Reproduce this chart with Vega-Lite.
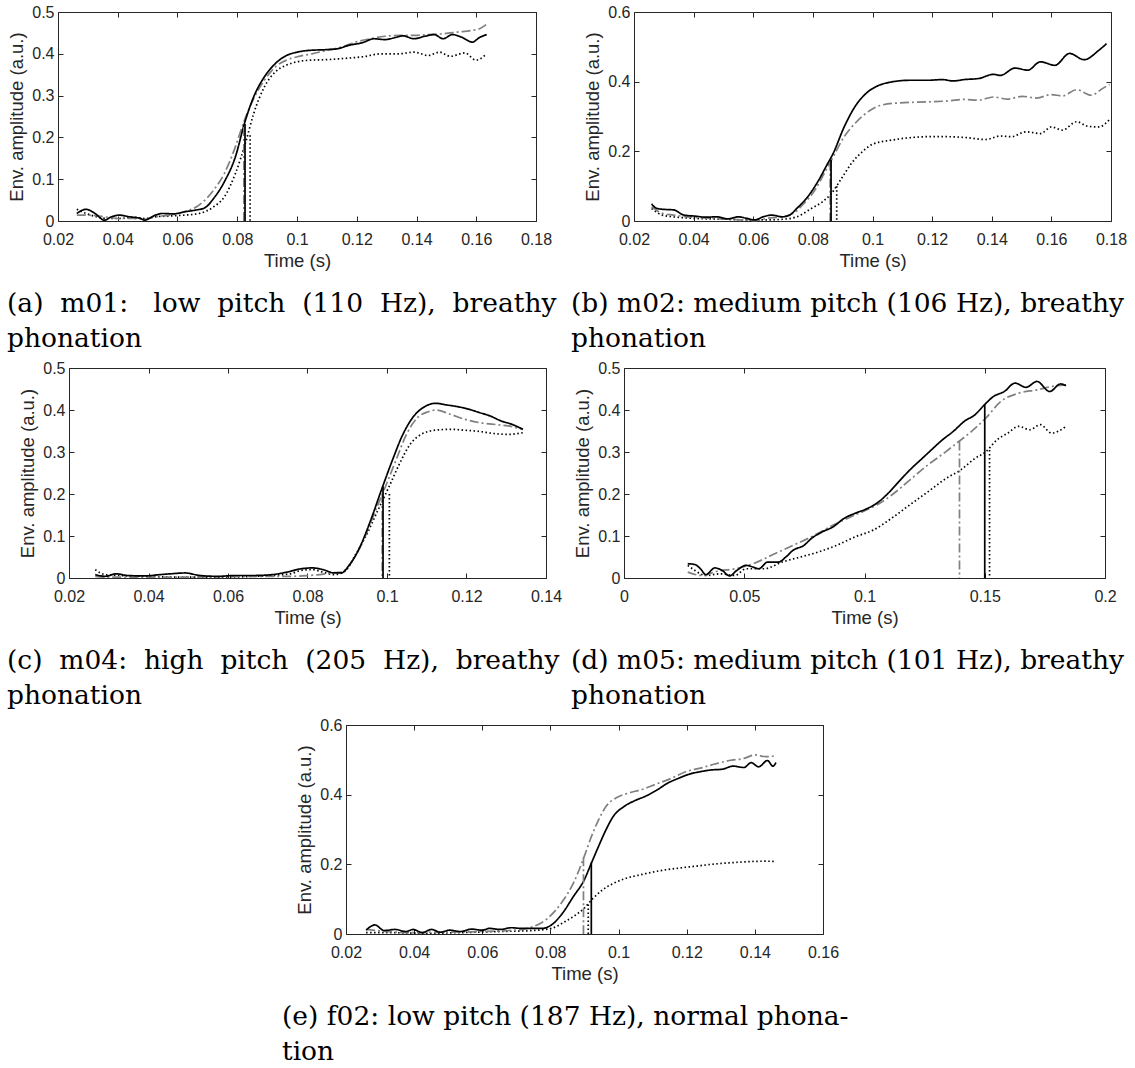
{
"$schema": "https://vega.github.io/schema/vega-lite/v6.json",
"background": "white",
"padding": {"left": 6, "top": 3, "right": 5, "bottom": 5},
"config": {
  "view": {"stroke": null},
  "axis": {"labelFont": "Liberation Sans", "labelFontSize": 16, "labelColor": "#262626", "titleFont": "Liberation Sans", "titleFontSize": 18.5, "titleFontWeight": "normal", "titleColor": "#262626", "tickColor": "#262626", "tickSize": -5, "tickWidth": 1, "domain": false, "grid": false, "labelFlush": false, "labelOverlap": false, "labelBound": false},
  "axisX": {"labelPadding": 15, "titlePadding": 4},
  "axisY": {"labelPadding": 9, "titlePadding": 5},
  "line": {"interpolate": "monotone"},
  "title": {"font": "DejaVu Serif", "fontSize": 26.5, "fontWeight": "normal", "color": "#000000", "orient": "bottom", "anchor": "start", "frame": "group", "baseline": "alphabetic", "lineHeight": 35, "offset": 21}
},
"datasets": {
"a": [
{"s":"dotted","t":0.0263,"v":0.028},{"s":"dotted","t":0.0294,"v":0.018},{"s":"dotted","t":0.0330,"v":0.010},{"s":"dotted","t":0.0367,"v":0.006},{"s":"dotted","t":0.0404,"v":0.006},{"s":"dotted","t":0.0452,"v":0.009},{"s":"dotted","t":0.0489,"v":0.006},{"s":"dotted","t":0.0526,"v":0.010},{"s":"dotted","t":0.0574,"v":0.012},{"s":"dotted","t":0.0623,"v":0.014},{"s":"dotted","t":0.0672,"v":0.018},{"s":"dotted","t":0.0721,"v":0.034},{"s":"dotted","t":0.0757,"v":0.058},{"s":"dotted","t":0.0794,"v":0.114},{"s":"dotted","t":0.0830,"v":0.193},{"s":"dotted","t":0.0855,"v":0.257},{"s":"dotted","t":0.0891,"v":0.321},{"s":"dotted","t":0.0928,"v":0.357},{"s":"dotted","t":0.0965,"v":0.373},{"s":"dotted","t":0.1001,"v":0.381},{"s":"dotted","t":0.1050,"v":0.385},{"s":"dotted","t":0.1099,"v":0.386},{"s":"dotted","t":0.1160,"v":0.389},{"s":"dotted","t":0.1221,"v":0.393},{"s":"dotted","t":0.1282,"v":0.400},{"s":"dotted","t":0.1343,"v":0.400},{"s":"dotted","t":0.1391,"v":0.404},{"s":"dotted","t":0.1440,"v":0.396},{"s":"dotted","t":0.1477,"v":0.404},{"s":"dotted","t":0.1513,"v":0.394},{"s":"dotted","t":0.1562,"v":0.402},{"s":"dotted","t":0.1599,"v":0.385},{"s":"dotted","t":0.1635,"v":0.400},
{"s":"dashdot","t":0.0263,"v":0.014},{"s":"dashdot","t":0.0306,"v":0.014},{"s":"dashdot","t":0.0355,"v":0.010},{"s":"dashdot","t":0.0404,"v":0.006},{"s":"dashdot","t":0.0452,"v":0.006},{"s":"dashdot","t":0.0489,"v":0.004},{"s":"dashdot","t":0.0526,"v":0.010},{"s":"dashdot","t":0.0574,"v":0.014},{"s":"dashdot","t":0.0623,"v":0.022},{"s":"dashdot","t":0.0672,"v":0.038},{"s":"dashdot","t":0.0721,"v":0.074},{"s":"dashdot","t":0.0757,"v":0.114},{"s":"dashdot","t":0.0794,"v":0.178},{"s":"dashdot","t":0.0824,"v":0.241},{"s":"dashdot","t":0.0855,"v":0.293},{"s":"dashdot","t":0.0891,"v":0.337},{"s":"dashdot","t":0.0928,"v":0.369},{"s":"dashdot","t":0.0965,"v":0.385},{"s":"dashdot","t":0.1001,"v":0.393},{"s":"dashdot","t":0.1050,"v":0.400},{"s":"dashdot","t":0.1099,"v":0.408},{"s":"dashdot","t":0.1148,"v":0.416},{"s":"dashdot","t":0.1196,"v":0.428},{"s":"dashdot","t":0.1245,"v":0.436},{"s":"dashdot","t":0.1294,"v":0.442},{"s":"dashdot","t":0.1343,"v":0.444},{"s":"dashdot","t":0.1391,"v":0.444},{"s":"dashdot","t":0.1440,"v":0.446},{"s":"dashdot","t":0.1489,"v":0.448},{"s":"dashdot","t":0.1538,"v":0.452},{"s":"dashdot","t":0.1587,"v":0.456},{"s":"dashdot","t":0.1611,"v":0.460},{"s":"dashdot","t":0.1635,"v":0.471},
{"s":"solid","t":0.0263,"v":0.018},{"s":"solid","t":0.0294,"v":0.028},{"s":"solid","t":0.0324,"v":0.018},{"s":"solid","t":0.0355,"v":0.002},{"s":"solid","t":0.0379,"v":0.010},{"s":"solid","t":0.0404,"v":0.014},{"s":"solid","t":0.0440,"v":0.010},{"s":"solid","t":0.0477,"v":0.006},{"s":"solid","t":0.0489,"v":0.002},{"s":"solid","t":0.0526,"v":0.014},{"s":"solid","t":0.0550,"v":0.018},{"s":"solid","t":0.0587,"v":0.017},{"s":"solid","t":0.0623,"v":0.022},{"s":"solid","t":0.0660,"v":0.026},{"s":"solid","t":0.0690,"v":0.031},{"s":"solid","t":0.0721,"v":0.054},{"s":"solid","t":0.0757,"v":0.094},{"s":"solid","t":0.0794,"v":0.154},{"s":"solid","t":0.0824,"v":0.233},{"s":"solid","t":0.0855,"v":0.297},{"s":"solid","t":0.0891,"v":0.345},{"s":"solid","t":0.0928,"v":0.377},{"s":"solid","t":0.0965,"v":0.396},{"s":"solid","t":0.1001,"v":0.404},{"s":"solid","t":0.1038,"v":0.408},{"s":"solid","t":0.1099,"v":0.410},{"s":"solid","t":0.1135,"v":0.412},{"s":"solid","t":0.1172,"v":0.420},{"s":"solid","t":0.1221,"v":0.427},{"s":"solid","t":0.1257,"v":0.436},{"s":"solid","t":0.1294,"v":0.434},{"s":"solid","t":0.1330,"v":0.439},{"s":"solid","t":0.1355,"v":0.443},{"s":"solid","t":0.1391,"v":0.436},{"s":"solid","t":0.1428,"v":0.442},{"s":"solid","t":0.1459,"v":0.446},{"s":"solid","t":0.1489,"v":0.436},{"s":"solid","t":0.1520,"v":0.446},{"s":"solid","t":0.1550,"v":0.440},{"s":"solid","t":0.1587,"v":0.428},{"s":"solid","t":0.1611,"v":0.439},{"s":"solid","t":0.1635,"v":0.446}
],
"a_on": [{"s":"dotted","t":0.0843,"v":0.205},{"s":"dashdot","t":0.0822,"v":0.225},{"s":"solid","t":0.0826,"v":0.232}],
"b": [
{"s":"dotted","t":0.0259,"v":0.036},{"s":"dotted","t":0.0295,"v":0.017},{"s":"dotted","t":0.0332,"v":0.012},{"s":"dotted","t":0.0393,"v":0.008},{"s":"dotted","t":0.0454,"v":0.006},{"s":"dotted","t":0.0515,"v":0.005},{"s":"dotted","t":0.0576,"v":0.003},{"s":"dotted","t":0.0637,"v":0.003},{"s":"dotted","t":0.0698,"v":0.005},{"s":"dotted","t":0.0746,"v":0.012},{"s":"dotted","t":0.0795,"v":0.036},{"s":"dotted","t":0.0832,"v":0.055},{"s":"dotted","t":0.0862,"v":0.079},{"s":"dotted","t":0.0893,"v":0.118},{"s":"dotted","t":0.0929,"v":0.165},{"s":"dotted","t":0.0966,"v":0.199},{"s":"dotted","t":0.1002,"v":0.221},{"s":"dotted","t":0.1063,"v":0.232},{"s":"dotted","t":0.1124,"v":0.239},{"s":"dotted","t":0.1185,"v":0.242},{"s":"dotted","t":0.1246,"v":0.242},{"s":"dotted","t":0.1307,"v":0.240},{"s":"dotted","t":0.1380,"v":0.234},{"s":"dotted","t":0.1429,"v":0.244},{"s":"dotted","t":0.1466,"v":0.242},{"s":"dotted","t":0.1515,"v":0.256},{"s":"dotted","t":0.1563,"v":0.251},{"s":"dotted","t":0.1600,"v":0.270},{"s":"dotted","t":0.1637,"v":0.261},{"s":"dotted","t":0.1685,"v":0.285},{"s":"dotted","t":0.1722,"v":0.272},{"s":"dotted","t":0.1759,"v":0.270},{"s":"dotted","t":0.1795,"v":0.291},
{"s":"dashdot","t":0.0259,"v":0.041},{"s":"dashdot","t":0.0295,"v":0.022},{"s":"dashdot","t":0.0332,"v":0.017},{"s":"dashdot","t":0.0393,"v":0.011},{"s":"dashdot","t":0.0454,"v":0.008},{"s":"dashdot","t":0.0515,"v":0.005},{"s":"dashdot","t":0.0576,"v":0.003},{"s":"dashdot","t":0.0606,"v":0.001},{"s":"dashdot","t":0.0649,"v":0.008},{"s":"dashdot","t":0.0698,"v":0.012},{"s":"dashdot","t":0.0734,"v":0.022},{"s":"dashdot","t":0.0771,"v":0.051},{"s":"dashdot","t":0.0807,"v":0.089},{"s":"dashdot","t":0.0844,"v":0.146},{"s":"dashdot","t":0.0868,"v":0.184},{"s":"dashdot","t":0.0905,"v":0.242},{"s":"dashdot","t":0.0941,"v":0.280},{"s":"dashdot","t":0.0978,"v":0.309},{"s":"dashdot","t":0.1027,"v":0.332},{"s":"dashdot","t":0.1088,"v":0.339},{"s":"dashdot","t":0.1185,"v":0.342},{"s":"dashdot","t":0.1259,"v":0.345},{"s":"dashdot","t":0.1307,"v":0.349},{"s":"dashdot","t":0.1356,"v":0.347},{"s":"dashdot","t":0.1405,"v":0.356},{"s":"dashdot","t":0.1454,"v":0.350},{"s":"dashdot","t":0.1502,"v":0.358},{"s":"dashdot","t":0.1551,"v":0.353},{"s":"dashdot","t":0.1600,"v":0.363},{"s":"dashdot","t":0.1637,"v":0.359},{"s":"dashdot","t":0.1685,"v":0.377},{"s":"dashdot","t":0.1734,"v":0.361},{"s":"dashdot","t":0.1771,"v":0.380},{"s":"dashdot","t":0.1795,"v":0.392},
{"s":"solid","t":0.0259,"v":0.049},{"s":"solid","t":0.0277,"v":0.036},{"s":"solid","t":0.0307,"v":0.033},{"s":"solid","t":0.0332,"v":0.032},{"s":"solid","t":0.0368,"v":0.017},{"s":"solid","t":0.0405,"v":0.014},{"s":"solid","t":0.0441,"v":0.011},{"s":"solid","t":0.0478,"v":0.012},{"s":"solid","t":0.0515,"v":0.006},{"s":"solid","t":0.0551,"v":0.012},{"s":"solid","t":0.0576,"v":0.008},{"s":"solid","t":0.0606,"v":0.003},{"s":"solid","t":0.0630,"v":0.011},{"s":"solid","t":0.0661,"v":0.017},{"s":"solid","t":0.0698,"v":0.012},{"s":"solid","t":0.0722,"v":0.017},{"s":"solid","t":0.0746,"v":0.036},{"s":"solid","t":0.0783,"v":0.070},{"s":"solid","t":0.0820,"v":0.118},{"s":"solid","t":0.0844,"v":0.156},{"s":"solid","t":0.0868,"v":0.194},{"s":"solid","t":0.0905,"v":0.270},{"s":"solid","t":0.0941,"v":0.328},{"s":"solid","t":0.0978,"v":0.366},{"s":"solid","t":0.1015,"v":0.387},{"s":"solid","t":0.1063,"v":0.399},{"s":"solid","t":0.1124,"v":0.404},{"s":"solid","t":0.1185,"v":0.404},{"s":"solid","t":0.1234,"v":0.406},{"s":"solid","t":0.1271,"v":0.402},{"s":"solid","t":0.1307,"v":0.406},{"s":"solid","t":0.1356,"v":0.409},{"s":"solid","t":0.1405,"v":0.421},{"s":"solid","t":0.1429,"v":0.418},{"s":"solid","t":0.1478,"v":0.439},{"s":"solid","t":0.1521,"v":0.433},{"s":"solid","t":0.1563,"v":0.457},{"s":"solid","t":0.1612,"v":0.447},{"s":"solid","t":0.1661,"v":0.481},{"s":"solid","t":0.1710,"v":0.463},{"s":"solid","t":0.1759,"v":0.490},{"s":"solid","t":0.1785,"v":0.509}
],
"b_on": [{"s":"dotted","t":0.0880,"v":0.100},{"s":"dashdot","t":0.0858,"v":0.170},{"s":"solid","t":0.0861,"v":0.175}],
"c": [
{"s":"dotted","t":0.0266,"v":0.020},{"s":"dotted","t":0.0291,"v":0.008},{"s":"dotted","t":0.0328,"v":0.006},{"s":"dotted","t":0.0392,"v":0.004},{"s":"dotted","t":0.0483,"v":0.002},{"s":"dotted","t":0.0574,"v":0.002},{"s":"dotted","t":0.0666,"v":0.004},{"s":"dotted","t":0.0757,"v":0.010},{"s":"dotted","t":0.0784,"v":0.018},{"s":"dotted","t":0.0812,"v":0.020},{"s":"dotted","t":0.0839,"v":0.014},{"s":"dotted","t":0.0867,"v":0.008},{"s":"dotted","t":0.0894,"v":0.016},{"s":"dotted","t":0.0921,"v":0.056},{"s":"dotted","t":0.0949,"v":0.104},{"s":"dotted","t":0.0976,"v":0.159},{"s":"dotted","t":0.1004,"v":0.215},{"s":"dotted","t":0.1031,"v":0.271},{"s":"dotted","t":0.1058,"v":0.318},{"s":"dotted","t":0.1086,"v":0.342},{"s":"dotted","t":0.1122,"v":0.352},{"s":"dotted","t":0.1159,"v":0.354},{"s":"dotted","t":0.1195,"v":0.352},{"s":"dotted","t":0.1232,"v":0.349},{"s":"dotted","t":0.1268,"v":0.344},{"s":"dotted","t":0.1305,"v":0.342},{"s":"dotted","t":0.1342,"v":0.346},
{"s":"dashdot","t":0.0266,"v":0.004},{"s":"dashdot","t":0.0300,"v":0.002},{"s":"dashdot","t":0.0392,"v":0.002},{"s":"dashdot","t":0.0483,"v":0.002},{"s":"dashdot","t":0.0574,"v":0.003},{"s":"dashdot","t":0.0666,"v":0.004},{"s":"dashdot","t":0.0757,"v":0.004},{"s":"dashdot","t":0.0803,"v":0.006},{"s":"dashdot","t":0.0830,"v":0.008},{"s":"dashdot","t":0.0858,"v":0.012},{"s":"dashdot","t":0.0885,"v":0.014},{"s":"dashdot","t":0.0912,"v":0.040},{"s":"dashdot","t":0.0940,"v":0.088},{"s":"dashdot","t":0.0967,"v":0.151},{"s":"dashdot","t":0.0995,"v":0.215},{"s":"dashdot","t":0.1022,"v":0.279},{"s":"dashdot","t":0.1049,"v":0.342},{"s":"dashdot","t":0.1077,"v":0.382},{"s":"dashdot","t":0.1104,"v":0.396},{"s":"dashdot","t":0.1122,"v":0.400},{"s":"dashdot","t":0.1159,"v":0.390},{"s":"dashdot","t":0.1195,"v":0.378},{"s":"dashdot","t":0.1232,"v":0.370},{"s":"dashdot","t":0.1268,"v":0.366},{"s":"dashdot","t":0.1305,"v":0.362},{"s":"dashdot","t":0.1342,"v":0.354},
{"s":"solid","t":0.0266,"v":0.008},{"s":"solid","t":0.0291,"v":0.004},{"s":"solid","t":0.0319,"v":0.010},{"s":"solid","t":0.0346,"v":0.006},{"s":"solid","t":0.0392,"v":0.005},{"s":"solid","t":0.0428,"v":0.008},{"s":"solid","t":0.0456,"v":0.010},{"s":"solid","t":0.0492,"v":0.012},{"s":"solid","t":0.0529,"v":0.006},{"s":"solid","t":0.0574,"v":0.004},{"s":"solid","t":0.0620,"v":0.006},{"s":"solid","t":0.0666,"v":0.006},{"s":"solid","t":0.0711,"v":0.008},{"s":"solid","t":0.0748,"v":0.014},{"s":"solid","t":0.0784,"v":0.022},{"s":"solid","t":0.0812,"v":0.024},{"s":"solid","t":0.0839,"v":0.020},{"s":"solid","t":0.0867,"v":0.012},{"s":"solid","t":0.0885,"v":0.012},{"s":"solid","t":0.0903,"v":0.028},{"s":"solid","t":0.0931,"v":0.072},{"s":"solid","t":0.0958,"v":0.135},{"s":"solid","t":0.0985,"v":0.207},{"s":"solid","t":0.1013,"v":0.279},{"s":"solid","t":0.1040,"v":0.342},{"s":"solid","t":0.1068,"v":0.386},{"s":"solid","t":0.1095,"v":0.408},{"s":"solid","t":0.1122,"v":0.416},{"s":"solid","t":0.1150,"v":0.412},{"s":"solid","t":0.1177,"v":0.408},{"s":"solid","t":0.1205,"v":0.402},{"s":"solid","t":0.1232,"v":0.394},{"s":"solid","t":0.1259,"v":0.386},{"s":"solid","t":0.1287,"v":0.374},{"s":"solid","t":0.1314,"v":0.366},{"s":"solid","t":0.1342,"v":0.354}
],
"c_on": [{"s":"dotted","t":0.1006,"v":0.200},{"s":"dashdot","t":0.0988,"v":0.200},{"s":"solid","t":0.0990,"v":0.218}],
"d": [
{"s":"dotted","t":0.0265,"v":0.030},{"s":"dotted","t":0.0295,"v":0.018},{"s":"dotted","t":0.0340,"v":0.006},{"s":"dotted","t":0.0401,"v":0.010},{"s":"dotted","t":0.0461,"v":0.006},{"s":"dotted","t":0.0507,"v":0.022},{"s":"dotted","t":0.0582,"v":0.022},{"s":"dotted","t":0.0658,"v":0.038},{"s":"dotted","t":0.0734,"v":0.050},{"s":"dotted","t":0.0809,"v":0.062},{"s":"dotted","t":0.0885,"v":0.078},{"s":"dotted","t":0.0961,"v":0.098},{"s":"dotted","t":0.1036,"v":0.114},{"s":"dotted","t":0.1112,"v":0.142},{"s":"dotted","t":0.1188,"v":0.174},{"s":"dotted","t":0.1263,"v":0.205},{"s":"dotted","t":0.1339,"v":0.237},{"s":"dotted","t":0.1399,"v":0.257},{"s":"dotted","t":0.1460,"v":0.285},{"s":"dotted","t":0.1505,"v":0.301},{"s":"dotted","t":0.1551,"v":0.329},{"s":"dotted","t":0.1596,"v":0.345},{"s":"dotted","t":0.1641,"v":0.361},{"s":"dotted","t":0.1687,"v":0.353},{"s":"dotted","t":0.1732,"v":0.365},{"s":"dotted","t":0.1778,"v":0.345},{"s":"dotted","t":0.1838,"v":0.361},
{"s":"dashdot","t":0.0265,"v":0.014},{"s":"dashdot","t":0.0325,"v":0.006},{"s":"dashdot","t":0.0386,"v":0.016},{"s":"dashdot","t":0.0461,"v":0.022},{"s":"dashdot","t":0.0537,"v":0.034},{"s":"dashdot","t":0.0613,"v":0.054},{"s":"dashdot","t":0.0688,"v":0.074},{"s":"dashdot","t":0.0779,"v":0.098},{"s":"dashdot","t":0.0870,"v":0.126},{"s":"dashdot","t":0.0961,"v":0.150},{"s":"dashdot","t":0.1051,"v":0.174},{"s":"dashdot","t":0.1112,"v":0.197},{"s":"dashdot","t":0.1188,"v":0.233},{"s":"dashdot","t":0.1263,"v":0.269},{"s":"dashdot","t":0.1339,"v":0.301},{"s":"dashdot","t":0.1392,"v":0.325},{"s":"dashdot","t":0.1445,"v":0.349},{"s":"dashdot","t":0.1505,"v":0.381},{"s":"dashdot","t":0.1566,"v":0.420},{"s":"dashdot","t":0.1641,"v":0.440},{"s":"dashdot","t":0.1717,"v":0.448},{"s":"dashdot","t":0.1778,"v":0.456},{"s":"dashdot","t":0.1838,"v":0.460},
{"s":"solid","t":0.0265,"v":0.034},{"s":"solid","t":0.0295,"v":0.032},{"s":"solid","t":0.0318,"v":0.022},{"s":"solid","t":0.0340,"v":0.008},{"s":"solid","t":0.0378,"v":0.024},{"s":"solid","t":0.0408,"v":0.018},{"s":"solid","t":0.0439,"v":0.005},{"s":"solid","t":0.0469,"v":0.018},{"s":"solid","t":0.0507,"v":0.030},{"s":"solid","t":0.0537,"v":0.026},{"s":"solid","t":0.0560,"v":0.022},{"s":"solid","t":0.0598,"v":0.038},{"s":"solid","t":0.0643,"v":0.038},{"s":"solid","t":0.0673,"v":0.050},{"s":"solid","t":0.0703,"v":0.066},{"s":"solid","t":0.0749,"v":0.078},{"s":"solid","t":0.0779,"v":0.094},{"s":"solid","t":0.0825,"v":0.110},{"s":"solid","t":0.0870,"v":0.122},{"s":"solid","t":0.0915,"v":0.142},{"s":"solid","t":0.0961,"v":0.154},{"s":"solid","t":0.1006,"v":0.164},{"s":"solid","t":0.1051,"v":0.178},{"s":"solid","t":0.1097,"v":0.201},{"s":"solid","t":0.1142,"v":0.229},{"s":"solid","t":0.1188,"v":0.257},{"s":"solid","t":0.1233,"v":0.281},{"s":"solid","t":0.1278,"v":0.305},{"s":"solid","t":0.1324,"v":0.329},{"s":"solid","t":0.1369,"v":0.349},{"s":"solid","t":0.1415,"v":0.373},{"s":"solid","t":0.1460,"v":0.389},{"s":"solid","t":0.1498,"v":0.412},{"s":"solid","t":0.1536,"v":0.432},{"s":"solid","t":0.1581,"v":0.444},{"s":"solid","t":0.1626,"v":0.464},{"s":"solid","t":0.1672,"v":0.454},{"s":"solid","t":0.1717,"v":0.468},{"s":"solid","t":0.1770,"v":0.444},{"s":"solid","t":0.1815,"v":0.462},{"s":"solid","t":0.1838,"v":0.458}
],
"d_on": [{"s":"dotted","t":0.1520,"v":0.305},{"s":"dashdot","t":0.1395,"v":0.325},{"s":"solid","t":0.1500,"v":0.412}],
"e": [
{"s":"dotted","t":0.0259,"v":0.004},{"s":"dotted","t":0.0323,"v":0.004},{"s":"dotted","t":0.0429,"v":0.002},{"s":"dotted","t":0.0536,"v":0.004},{"s":"dotted","t":0.0643,"v":0.007},{"s":"dotted","t":0.0749,"v":0.010},{"s":"dotted","t":0.0803,"v":0.016},{"s":"dotted","t":0.0835,"v":0.031},{"s":"dotted","t":0.0867,"v":0.050},{"s":"dotted","t":0.0899,"v":0.074},{"s":"dotted","t":0.0925,"v":0.102},{"s":"dotted","t":0.0952,"v":0.126},{"s":"dotted","t":0.0984,"v":0.145},{"s":"dotted","t":0.1016,"v":0.158},{"s":"dotted","t":0.1069,"v":0.171},{"s":"dotted","t":0.1123,"v":0.182},{"s":"dotted","t":0.1176,"v":0.189},{"s":"dotted","t":0.1229,"v":0.195},{"s":"dotted","t":0.1283,"v":0.201},{"s":"dotted","t":0.1336,"v":0.205},{"s":"dotted","t":0.1389,"v":0.208},{"s":"dotted","t":0.1432,"v":0.209},{"s":"dotted","t":0.1462,"v":0.208},
{"s":"dashdot","t":0.0259,"v":0.013},{"s":"dashdot","t":0.0301,"v":0.009},{"s":"dashdot","t":0.0376,"v":0.004},{"s":"dashdot","t":0.0483,"v":0.005},{"s":"dashdot","t":0.0589,"v":0.007},{"s":"dashdot","t":0.0696,"v":0.011},{"s":"dashdot","t":0.0749,"v":0.021},{"s":"dashdot","t":0.0792,"v":0.045},{"s":"dashdot","t":0.0835,"v":0.093},{"s":"dashdot","t":0.0867,"v":0.145},{"s":"dashdot","t":0.0899,"v":0.222},{"s":"dashdot","t":0.0920,"v":0.279},{"s":"dashdot","t":0.0941,"v":0.327},{"s":"dashdot","t":0.0963,"v":0.366},{"s":"dashdot","t":0.0995,"v":0.392},{"s":"dashdot","t":0.1027,"v":0.404},{"s":"dashdot","t":0.1069,"v":0.415},{"s":"dashdot","t":0.1112,"v":0.431},{"s":"dashdot","t":0.1155,"v":0.447},{"s":"dashdot","t":0.1197,"v":0.466},{"s":"dashdot","t":0.1240,"v":0.476},{"s":"dashdot","t":0.1283,"v":0.488},{"s":"dashdot","t":0.1325,"v":0.498},{"s":"dashdot","t":0.1368,"v":0.504},{"s":"dashdot","t":0.1400,"v":0.514},{"s":"dashdot","t":0.1432,"v":0.509},{"s":"dashdot","t":0.1462,"v":0.512},
{"s":"solid","t":0.0259,"v":0.011},{"s":"solid","t":0.0285,"v":0.026},{"s":"solid","t":0.0312,"v":0.010},{"s":"solid","t":0.0344,"v":0.013},{"s":"solid","t":0.0376,"v":0.007},{"s":"solid","t":0.0397,"v":0.013},{"s":"solid","t":0.0424,"v":0.004},{"s":"solid","t":0.0451,"v":0.013},{"s":"solid","t":0.0477,"v":0.005},{"s":"solid","t":0.0504,"v":0.011},{"s":"solid","t":0.0536,"v":0.007},{"s":"solid","t":0.0568,"v":0.014},{"s":"solid","t":0.0600,"v":0.011},{"s":"solid","t":0.0621,"v":0.016},{"s":"solid","t":0.0653,"v":0.013},{"s":"solid","t":0.0685,"v":0.018},{"s":"solid","t":0.0717,"v":0.016},{"s":"solid","t":0.0749,"v":0.016},{"s":"solid","t":0.0776,"v":0.016},{"s":"solid","t":0.0803,"v":0.026},{"s":"solid","t":0.0835,"v":0.059},{"s":"solid","t":0.0867,"v":0.107},{"s":"solid","t":0.0899,"v":0.155},{"s":"solid","t":0.0920,"v":0.203},{"s":"solid","t":0.0941,"v":0.251},{"s":"solid","t":0.0963,"v":0.299},{"s":"solid","t":0.0984,"v":0.337},{"s":"solid","t":0.1016,"v":0.366},{"s":"solid","t":0.1048,"v":0.383},{"s":"solid","t":0.1080,"v":0.396},{"s":"solid","t":0.1112,"v":0.413},{"s":"solid","t":0.1144,"v":0.433},{"s":"solid","t":0.1176,"v":0.447},{"s":"solid","t":0.1208,"v":0.459},{"s":"solid","t":0.1240,"v":0.466},{"s":"solid","t":0.1272,"v":0.471},{"s":"solid","t":0.1304,"v":0.473},{"s":"solid","t":0.1336,"v":0.482},{"s":"solid","t":0.1368,"v":0.478},{"s":"solid","t":0.1389,"v":0.492},{"s":"solid","t":0.1411,"v":0.480},{"s":"solid","t":0.1437,"v":0.498},{"s":"solid","t":0.1453,"v":0.482},{"s":"solid","t":0.1462,"v":0.492}
],
"e_on": [{"s":"dotted","t":0.0911,"v":0.085},{"s":"dashdot","t":0.0897,"v":0.220},{"s":"solid","t":0.0920,"v":0.205}]
},
"vconcat": [
{"hconcat": [
{
  "width": 478, "height": 209, "view": {"stroke": "#262626"},
  "title": {"text": ["(a)\u00a0\u00a0m01:\u00a0\u00a0\u00a0low\u00a0\u00a0pitch\u00a0\u00a0(110\u00a0\u00a0Hz),\u00a0\u00a0breathy", "phonation"], "dx": -51},
  "layer": [
    {"data": {"name": "a"}, "mark": {"type": "line", "strokeWidth": 1.7},
     "encoding": {
       "x": {"field": "t", "type": "quantitative", "scale": {"domain": [0.02, 0.18], "nice": false, "zero": false}, "axis": {"orient": "bottom", "values": [0.02,0.04,0.06,0.08,0.1,0.12,0.14,0.16,0.18], "format": ".2~f", "title": "Time (s)"}},
       "y": {"field": "v", "type": "quantitative", "scale": {"domain": [0, 0.5], "nice": false}, "axis": {"orient": "left", "values": [0,0.1,0.2,0.3,0.4,0.5], "format": ".1~f", "title": "Env. amplitude (a.u.)"}},
       "color": {"field": "s", "type": "nominal", "scale": {"domain": ["dotted","dashdot","solid"], "range": ["#000000","#808080","#000000"]}, "legend": null},
       "strokeDash": {"field": "s", "type": "nominal", "scale": {"domain": ["dotted","dashdot","solid"], "range": [[1.5,2.5],[9,3,2,3],[1,0]]}, "legend": null}
     }},
    {"data": {"name": "a_on"}, "mark": {"type": "rule", "strokeWidth": 1.7},
     "encoding": {
       "x": {"field": "t", "type": "quantitative", "axis": {"orient": "top", "values": [0.02,0.04,0.06,0.08,0.1,0.12,0.14,0.16,0.18], "labels": false, "title": null}},
       "y": {"field": "v", "type": "quantitative", "axis": {"orient": "right", "values": [0,0.1,0.2,0.3,0.4,0.5], "labels": false, "title": null}},
       "y2": {"datum": 0},
       "color": {"field": "s", "type": "nominal", "legend": null},
       "strokeDash": {"field": "s", "type": "nominal", "legend": null}
     }}
  ],
  "resolve": {"axis": {"x": "independent", "y": "independent"}}
},
{"width": 98, "height": 209, "data": {"values": []}, "mark": "point", "encoding": {}},
{
  "width": 477, "height": 209, "view": {"stroke": "#262626"},
  "title": {"text": ["(b) m02: medium pitch (106 Hz), breathy", "phonation"], "dx": -63},
  "layer": [
    {"data": {"name": "b"}, "mark": {"type": "line", "strokeWidth": 1.7},
     "encoding": {
       "x": {"field": "t", "type": "quantitative", "scale": {"domain": [0.02, 0.18], "nice": false, "zero": false}, "axis": {"orient": "bottom", "values": [0.02,0.04,0.06,0.08,0.1,0.12,0.14,0.16,0.18], "format": ".2~f", "title": "Time (s)"}},
       "y": {"field": "v", "type": "quantitative", "scale": {"domain": [0, 0.6], "nice": false}, "axis": {"orient": "left", "values": [0,0.2,0.4,0.6], "format": ".1~f", "title": "Env. amplitude (a.u.)"}},
       "color": {"field": "s", "type": "nominal", "scale": {"domain": ["dotted","dashdot","solid"], "range": ["#000000","#808080","#000000"]}, "legend": null},
       "strokeDash": {"field": "s", "type": "nominal", "scale": {"domain": ["dotted","dashdot","solid"], "range": [[1.5,2.5],[9,3,2,3],[1,0]]}, "legend": null}
     }},
    {"data": {"name": "b_on"}, "mark": {"type": "rule", "strokeWidth": 1.7},
     "encoding": {
       "x": {"field": "t", "type": "quantitative", "axis": {"orient": "top", "values": [0.02,0.04,0.06,0.08,0.1,0.12,0.14,0.16,0.18], "labels": false, "title": null}},
       "y": {"field": "v", "type": "quantitative", "axis": {"orient": "right", "values": [0,0.2,0.4,0.6], "labels": false, "title": null}},
       "y2": {"datum": 0},
       "color": {"field": "s", "type": "nominal", "legend": null},
       "strokeDash": {"field": "s", "type": "nominal", "legend": null}
     }}
  ],
  "resolve": {"axis": {"x": "independent", "y": "independent"}}
}
], "bounds": "flush", "spacing": 0},
{"hconcat": [
{"width": 11, "height": 209, "data": {"values": []}, "mark": "point", "encoding": {}},
{
  "width": 477, "height": 210, "view": {"stroke": "#262626"},
  "title": {"text": ["(c)\u00a0\u00a0m04:\u00a0\u00a0high\u00a0\u00a0pitch\u00a0\u00a0(205\u00a0\u00a0Hz),\u00a0\u00a0breathy", "phonation"], "dx": -62},
  "layer": [
    {"data": {"name": "c"}, "mark": {"type": "line", "strokeWidth": 1.7},
     "encoding": {
       "x": {"field": "t", "type": "quantitative", "scale": {"domain": [0.02, 0.14], "nice": false, "zero": false}, "axis": {"orient": "bottom", "values": [0.02,0.04,0.06,0.08,0.1,0.12,0.14], "format": ".2~f", "title": "Time (s)"}},
       "y": {"field": "v", "type": "quantitative", "scale": {"domain": [0, 0.5], "nice": false}, "axis": {"orient": "left", "values": [0,0.1,0.2,0.3,0.4,0.5], "format": ".1~f", "title": "Env. amplitude (a.u.)"}},
       "color": {"field": "s", "type": "nominal", "scale": {"domain": ["dotted","dashdot","solid"], "range": ["#000000","#808080","#000000"]}, "legend": null},
       "strokeDash": {"field": "s", "type": "nominal", "scale": {"domain": ["dotted","dashdot","solid"], "range": [[1.5,2.5],[9,3,2,3],[1,0]]}, "legend": null}
     }},
    {"data": {"name": "c_on"}, "mark": {"type": "rule", "strokeWidth": 1.7},
     "encoding": {
       "x": {"field": "t", "type": "quantitative", "axis": {"orient": "top", "values": [0.02,0.04,0.06,0.08,0.1,0.12,0.14], "labels": false, "title": null}},
       "y": {"field": "v", "type": "quantitative", "axis": {"orient": "right", "values": [0,0.1,0.2,0.3,0.4,0.5], "labels": false, "title": null}},
       "y2": {"datum": 0},
       "color": {"field": "s", "type": "nominal", "legend": null},
       "strokeDash": {"field": "s", "type": "nominal", "legend": null}
     }}
  ],
  "resolve": {"axis": {"x": "independent", "y": "independent"}}
},
{"width": 78, "height": 209, "data": {"values": []}, "mark": "point", "encoding": {}},
{
  "width": 481, "height": 210, "view": {"stroke": "#262626"},
  "title": {"text": ["(d) m05: medium pitch (101 Hz), breathy", "phonation"], "dx": -53},
  "layer": [
    {"data": {"name": "d"}, "mark": {"type": "line", "strokeWidth": 1.7},
     "encoding": {
       "x": {"field": "t", "type": "quantitative", "scale": {"domain": [0, 0.2], "nice": false, "zero": false}, "axis": {"orient": "bottom", "values": [0,0.05,0.1,0.15,0.2], "format": ".2~f", "title": "Time (s)"}},
       "y": {"field": "v", "type": "quantitative", "scale": {"domain": [0, 0.5], "nice": false}, "axis": {"orient": "left", "values": [0,0.1,0.2,0.3,0.4,0.5], "format": ".1~f", "title": "Env. amplitude (a.u.)"}},
       "color": {"field": "s", "type": "nominal", "scale": {"domain": ["dotted","dashdot","solid"], "range": ["#000000","#808080","#000000"]}, "legend": null},
       "strokeDash": {"field": "s", "type": "nominal", "scale": {"domain": ["dotted","dashdot","solid"], "range": [[1.5,2.5],[9,3,2,3],[1,0]]}, "legend": null}
     }},
    {"data": {"name": "d_on"}, "mark": {"type": "rule", "strokeWidth": 1.7},
     "encoding": {
       "x": {"field": "t", "type": "quantitative", "axis": {"orient": "top", "values": [0,0.05,0.1,0.15,0.2], "labels": false, "title": null}},
       "y": {"field": "v", "type": "quantitative", "axis": {"orient": "right", "values": [0,0.1,0.2,0.3,0.4,0.5], "labels": false, "title": null}},
       "y2": {"datum": 0},
       "color": {"field": "s", "type": "nominal", "legend": null},
       "strokeDash": {"field": "s", "type": "nominal", "legend": null}
     }}
  ],
  "resolve": {"axis": {"x": "independent", "y": "independent"}}
}
], "bounds": "flush", "spacing": 0},
{"hconcat": [
{"width": 288, "height": 209, "data": {"values": []}, "mark": "point", "encoding": {}},
{
  "width": 477, "height": 209, "view": {"stroke": "#262626"},
  "title": {"text": ["(e) f02: low pitch (187 Hz), normal phona-", "tion"], "dx": -64},
  "layer": [
    {"data": {"name": "e"}, "mark": {"type": "line", "strokeWidth": 1.7},
     "encoding": {
       "x": {"field": "t", "type": "quantitative", "scale": {"domain": [0.02, 0.16], "nice": false, "zero": false}, "axis": {"orient": "bottom", "values": [0.02,0.04,0.06,0.08,0.1,0.12,0.14,0.16], "format": ".2~f", "title": "Time (s)"}},
       "y": {"field": "v", "type": "quantitative", "scale": {"domain": [0, 0.6], "nice": false}, "axis": {"orient": "left", "values": [0,0.2,0.4,0.6], "format": ".1~f", "title": "Env. amplitude (a.u.)"}},
       "color": {"field": "s", "type": "nominal", "scale": {"domain": ["dotted","dashdot","solid"], "range": ["#000000","#808080","#000000"]}, "legend": null},
       "strokeDash": {"field": "s", "type": "nominal", "scale": {"domain": ["dotted","dashdot","solid"], "range": [[1.5,2.5],[9,3,2,3],[1,0]]}, "legend": null}
     }},
    {"data": {"name": "e_on"}, "mark": {"type": "rule", "strokeWidth": 1.7},
     "encoding": {
       "x": {"field": "t", "type": "quantitative", "axis": {"orient": "top", "values": [0.02,0.04,0.06,0.08,0.1,0.12,0.14,0.16], "labels": false, "title": null}},
       "y": {"field": "v", "type": "quantitative", "axis": {"orient": "right", "values": [0,0.2,0.4,0.6], "labels": false, "title": null}},
       "y2": {"datum": 0},
       "color": {"field": "s", "type": "nominal", "legend": null},
       "strokeDash": {"field": "s", "type": "nominal", "legend": null}
     }}
  ],
  "resolve": {"axis": {"x": "independent", "y": "independent"}}
}
], "bounds": "flush", "spacing": 0}
],
"spacing": 6
}
